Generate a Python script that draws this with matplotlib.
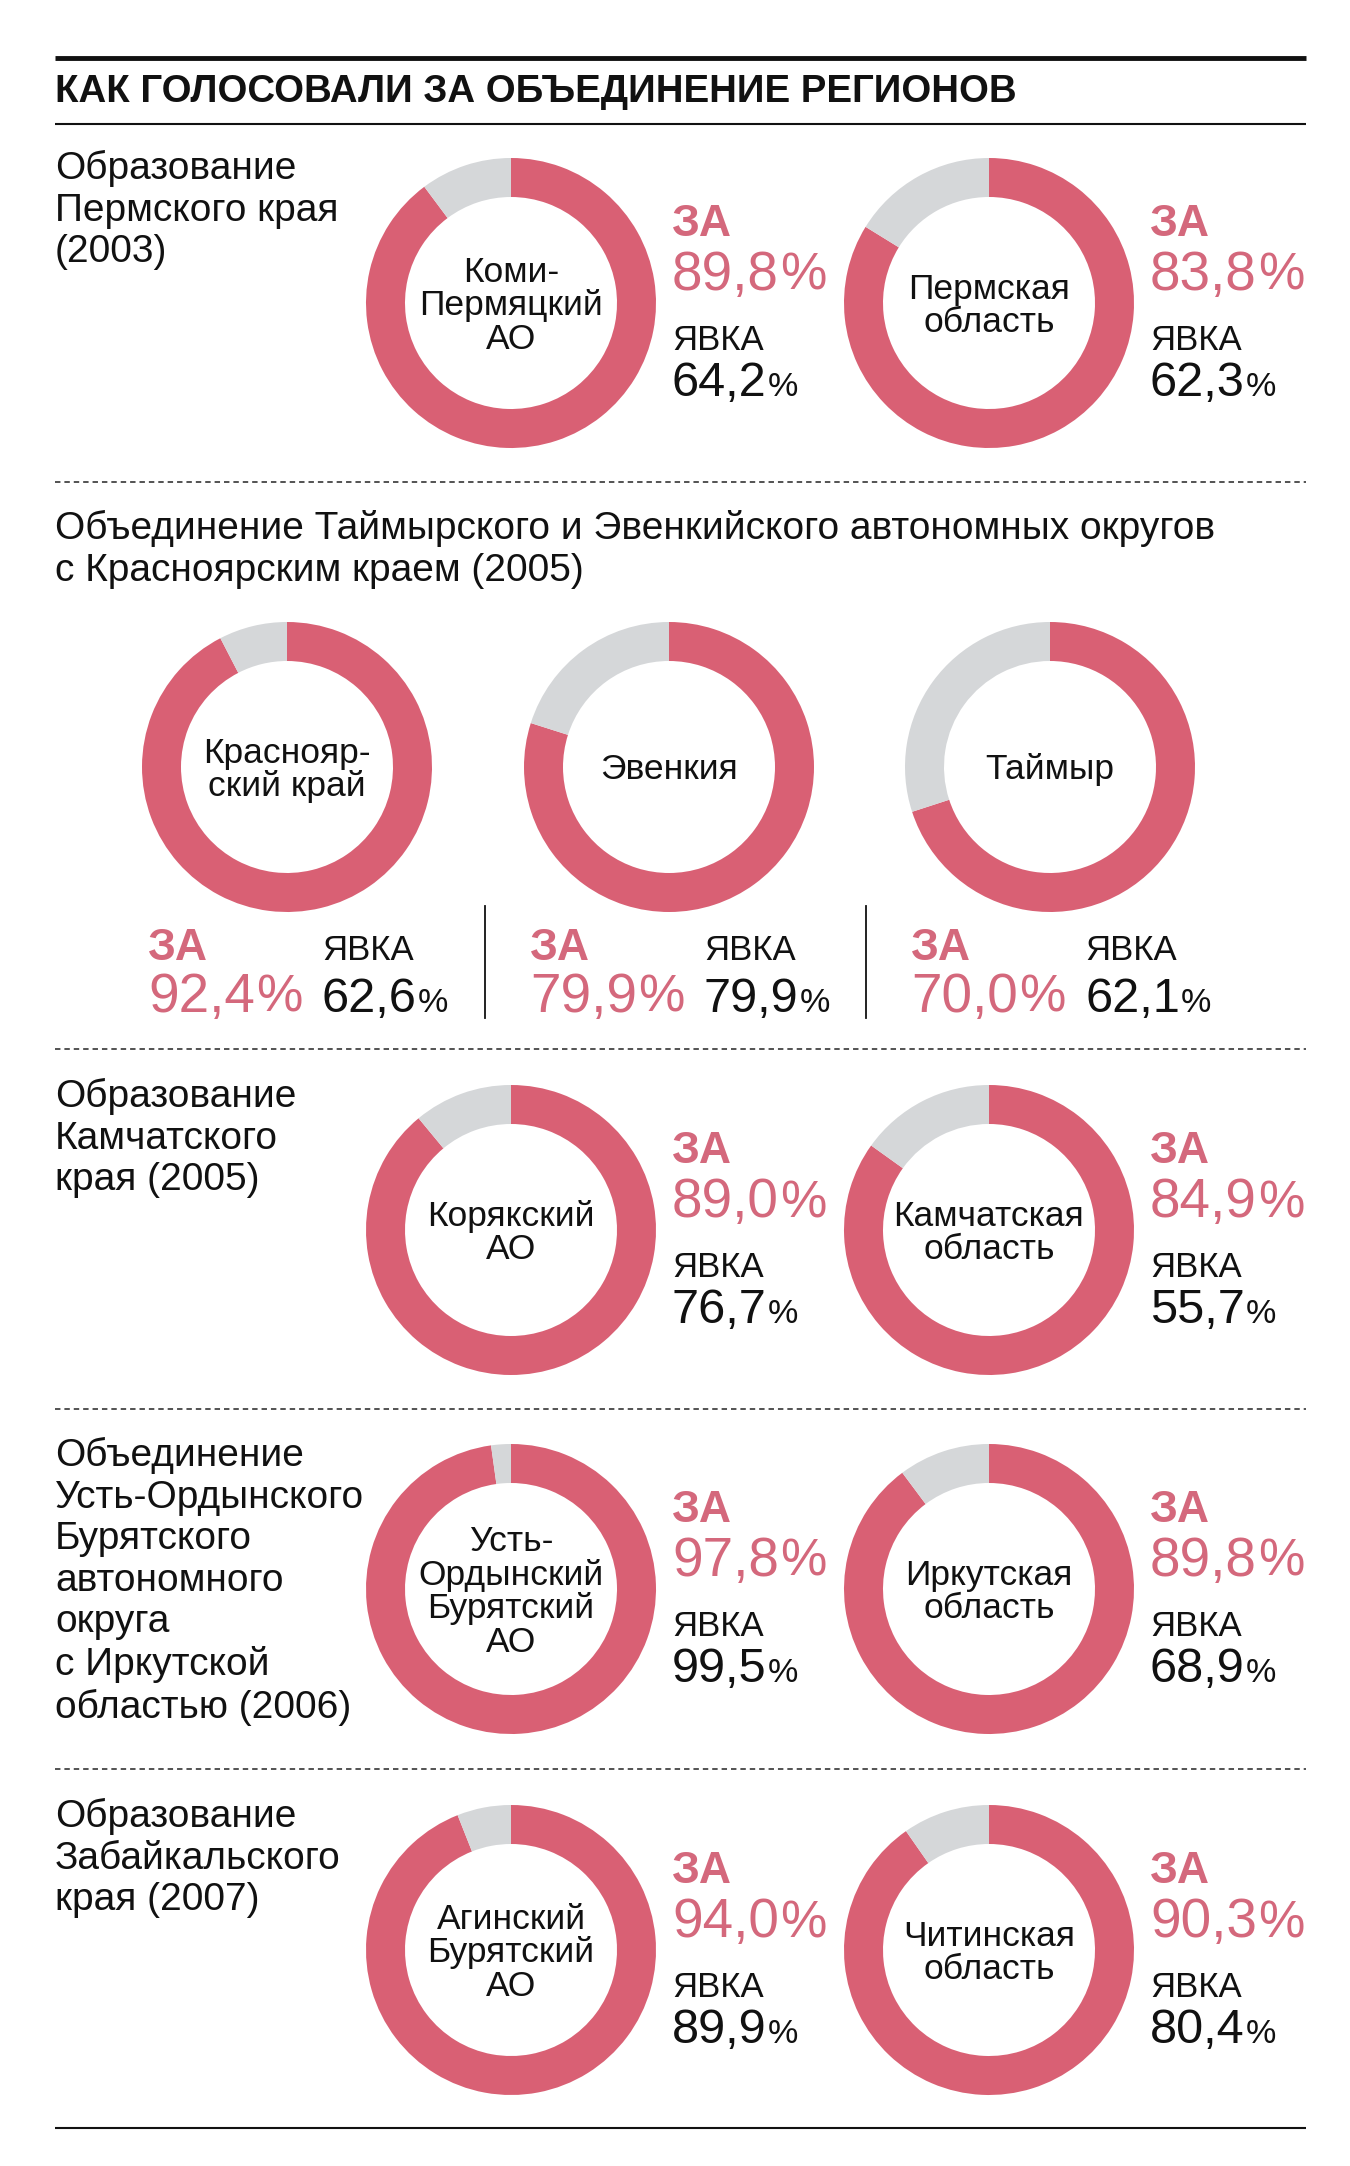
import matplotlib
matplotlib.use("Agg")
import matplotlib.pyplot as plt

# ---------------- data ----------------
title = "КАК ГОЛОСОВАЛИ ЗА ОБЪЕДИНЕНИЕ РЕГИОНОВ"
section_titles = [
    "Образование\nПермского края\n(2003)",
    "Объединение Таймырского и Эвенкийского автономных округов\nс Красноярским краем (2005)",
    "Образование\nКамчатского\nкрая (2005)",
    "Объединение\nУсть-Ордынского\nБурятского\nавтономного\nокруга\nс Иркутской\nобластью (2006)",
    "Образование\nЗабайкальского\nкрая (2007)",
]
regions = [
    ["Коми-\nПермяцкий\nАО", "Пермская\nобласть"],
    ["Краснояр-\nский край", "Эвенкия", "Таймыр"],
    ["Корякский\nАО", "Камчатская\nобласть"],
    ["Усть-\nОрдынский\nБурятский\nАО", "Иркутская\nобласть"],
    ["Агинский\nБурятский\nАО", "Читинская\nобласть"],
]
za = [
    [89.8, 83.8],
    [92.4, 79.9, 70.0],
    [89.0, 84.9],
    [97.8, 89.8],
    [94.0, 90.3],
]
turnout = [
    [64.2, 62.3],
    [62.6, 79.9, 62.1],
    [76.7, 55.7],
    [99.5, 68.9],
    [89.9, 80.4],
]
label_za = "ЗА"
label_turnout = "ЯВКА"

# ---------------- style ----------------
W, H = 1350, 2166
DPI = 100
PINK = "#D96074"
PINK_TXT = "#D4687C"
GREY = "#D5D7D9"
FONT = ["Liberation Sans", "DejaVu Sans"]
plt.rcParams["font.family"] = FONT

fig = plt.figure(figsize=(W / DPI, H / DPI), dpi=DPI)
ax0 = fig.add_axes([0, 0, 1, 1])
ax0.set_xlim(0, W)
ax0.set_ylim(H, 0)
ax0.axis("off")
renderer = fig.canvas.get_renderer()

X0, X1 = 55, 1306
R = 145
RING = 39

SEC_FS = 28
LBL_FS = 25.5
ZA_FS = 32
PNUM_FS = 39.5
YAV_FS = 25
BNUM_FS = 35


def donut(cx, cy, value, name):
    a = fig.add_axes([(cx - R) / W, 1 - (cy + R) / H, 2 * R / W, 2 * R / H])
    a.pie([value, 100 - value], colors=[PINK, GREY], startangle=90,
          counterclock=False, radius=1.0,
          wedgeprops=dict(width=RING / R, linewidth=0))
    a.set_xlim(-1, 1)
    a.set_ylim(-1, 1)
    a.axis("off")
    a.text(0, -0.02, name, ha="center", va="center", fontsize=LBL_FS,
           linespacing=1.02, color="#111111")


def number(x, y, val, color, size, pct_scale):
    s = f"{val:.1f}".replace(".", ",")
    t = ax0.text(x, y, s, fontsize=size, color=color, ha="left", va="baseline")
    bb = t.get_window_extent(renderer=renderer)
    xd = ax0.transData.inverted().transform((bb.x1, 0))[0]
    ax0.text(xd + 1, y, "%", fontsize=size * pct_scale, color=color,
             ha="left", va="baseline")


def side_block(x, cy, zval, tval):
    ax0.text(x, cy - 67, label_za, fontsize=ZA_FS, fontweight="bold",
             color=PINK_TXT, ha="left", va="baseline")
    number(x, cy - 13, zval, PINK_TXT, PNUM_FS, 0.95)
    ax0.text(x, cy + 47, label_turnout, fontsize=YAV_FS, color="#111111",
             ha="left", va="baseline")
    number(x, cy + 93, tval, "#111111", BNUM_FS, 0.7)


# top rules and title
ax0.plot([X0, X1], [58, 58], color="#111111", lw=3.5, solid_capstyle="butt")
ax0.text(X0, 92, title, fontsize=27.6, fontweight="bold", color="#111111",
         ha="left", va="center")
ax0.plot([X0, X1], [124, 124], color="#111111", lw=1.5, solid_capstyle="butt")
ax0.plot([X0, X1], [2128, 2128], color="#111111", lw=1.5, solid_capstyle="butt")

# dotted separators
for y in [482, 1049, 1409, 1769]:
    ax0.plot([X0, X1], [y, y], color="#444444", lw=1.3, ls=(0, (3, 2.2)))

# two-donut sections
two_idx = [0, 2, 3, 4]
two_cy = [303, 1230, 1589, 1950]
title_top = [150, 1078, 1437, 1798]
donut_cx = [511, 989]
side_x = [672, 1150]
for k, si in enumerate(two_idx):
    ax0.text(X0, title_top[k], section_titles[si], fontsize=SEC_FS,
             color="#111111", ha="left", va="top", linespacing=1.2)
    for j in range(2):
        donut(donut_cx[j], two_cy[k], za[si][j], regions[si][j])
        side_block(side_x[j], two_cy[k], za[si][j], turnout[si][j])

# three-donut section
ax0.text(X0, 510, section_titles[1], fontsize=SEC_FS, color="#111111",
         ha="left", va="top", linespacing=1.2)
cx3 = [287, 669, 1050]
cy3 = 767
for j in range(3):
    donut(cx3[j], cy3, za[1][j], regions[1][j])
    ax0.text(cx3[j] - 139, 960, label_za, fontsize=ZA_FS, fontweight="bold",
             color=PINK_TXT, ha="left", va="baseline")
    ax0.text(cx3[j] + 35, 960, label_turnout, fontsize=YAV_FS, color="#111111",
             ha="left", va="baseline")
    number(cx3[j] - 139, 1012, za[1][j], PINK_TXT, PNUM_FS, 0.95)
    number(cx3[j] + 35, 1012, turnout[1][j], "#111111", BNUM_FS, 0.7)
for x in [485, 866]:
    ax0.plot([x, x], [906, 1018], color="#111111", lw=1.3)

fig.savefig("out.png", dpi=DPI)
